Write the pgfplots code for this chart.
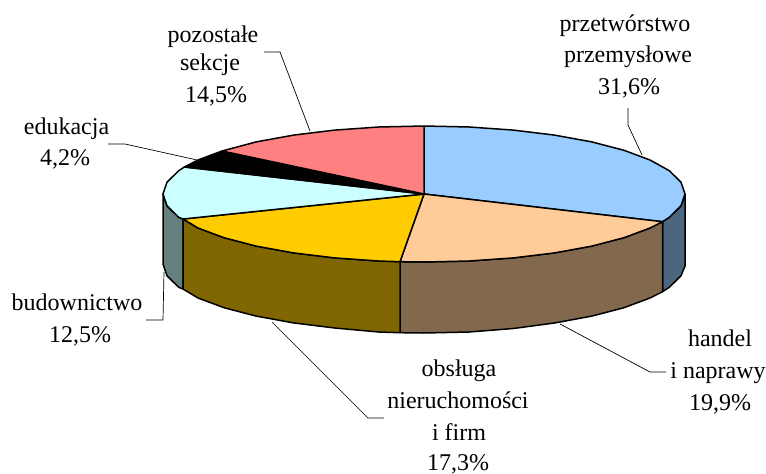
\documentclass[border=0pt]{standalone}
\usepackage{pgfplots}
\pgfplotsset{compat=1.18}
\usepackage{fontspec}
\setmainfont{Liberation Serif}
\definecolor{cblue}{HTML}{99CCFF}
\definecolor{cpeach}{HTML}{FFCC99}
\definecolor{cgold}{HTML}{FFCC00}
\definecolor{ccyan}{HTML}{CCFFFF}
\definecolor{cpink}{HTML}{FF8080}
\definecolor{sblue}{HTML}{4D6680}
\definecolor{speach}{HTML}{82684D}
\definecolor{sgold}{HTML}{806600}
\definecolor{scyan}{HTML}{668080}
\tikzset{
  rim/.style={draw=black, line width=1.5pt, line join=round},
  leader/.style={draw=black, line width=0.7pt, line join=miter},
  lab/.style={anchor=base, font=\fontsize{24}{24}\selectfont, inner sep=0pt, text=black},
}
\begin{document}
\begin{tikzpicture}
\clip (0,0) rectangle (766pt,474pt);
\begin{axis}[
  at={(0,0)}, anchor=south west,
  scale only axis, width=766pt, height=474pt,
  xmin=0, xmax=766, ymin=0, ymax=474, y dir=reverse,
  hide axis, clip=false,
]
% leader lines
\addplot[leader] coordinates {(264,52) (280,52) (310,131)};
\addplot[leader] coordinates {(108,144) (125,144) (197,160)};
\addplot[leader] coordinates {(628,108) (628,125) (642,155)};
\addplot[leader] coordinates {(146,320) (163,320) (164,272)};
\addplot[leader] coordinates {(272,322) (368,418) (384,418)};
\addplot[leader] coordinates {(560,324) (650,372) (666,372)};
% sides
\addplot[rim, fill=sblue] coordinates {(685,194) (681,205.8) (669.3,217.3) (662.5,221.7) (662.5,291.7) (669.3,287.3) (681,275.8) (685,266)} --cycle;
\addplot[rim, fill=scyan] coordinates {(183,219) (178.7,217.3) (167,205.8) (163,194) (163,264) (167,275.8) (178.7,287.3) (183,289)} --cycle;
\addplot[rim, fill=speach] coordinates {(662.5,221.7) (650,228) (624,237.7) (591.8,246.1) (554.5,252.9) (513.3,257.9) (469.3,261) (424,262) (400,261.7)
  (400,332.7) (424,333) (469.3,332) (513.3,328.5) (554.5,323) (591.8,316.1) (624,307.7) (650,298) (662.5,291.7)} --cycle;
\addplot[rim, fill=sgold] coordinates {(400,261.7) (378.7,261) (334.7,257.9) (293.5,252.9) (256.2,246.1) (224,237.7) (198,228) (183,219)
  (183,289) (198,298) (224,307.7) (256.2,316.1) (293.5,322.9) (334.7,328) (378.7,332) (400,332.7)} --cycle;
% top face
\addplot[rim, fill=cblue] coordinates {(424,194) (424,126) (469.3,127) (513.3,130.1) (554.5,135.1) (591.8,141.9) (624,150.3) (650,160) (669.3,170.7) (681,182.2) (685,194) (681,205.8) (669.3,217.3) (662.5,221.7)} --cycle;
\addplot[rim, fill=cpeach] coordinates {(424,194) (662.5,221.7) (650,228) (624,237.7) (591.8,246.1) (554.5,252.9) (513.3,257.9) (469.3,261) (424,262) (400,261.7)} --cycle;
\addplot[rim, fill=cgold] coordinates {(424,194) (400,261.7) (378.7,261) (334.7,257.9) (293.5,252.9) (256.2,246.1) (224,237.7) (198,228) (183,219)} --cycle;
\addplot[rim, fill=ccyan] coordinates {(424,194) (183,219) (178.7,217.3) (167,205.8) (163,194) (167,182.2) (178.7,170.7) (184.4,167)} --cycle;
\addplot[rim, fill=black] coordinates {(424,194) (184.4,167) (198,160) (222,151)} --cycle;
\addplot[rim, fill=cpink] coordinates {(424,194) (222,151) (256.2,141.9) (293.5,135.1) (334.7,130.1) (378.7,127) (424,126)} --cycle;
% labels
\node[lab] at (axis cs:625,31) {przetwórstwo};
\node[lab] at (axis cs:628,62) {przemysłowe};
\node[lab] at (axis cs:629,94) {31,6\%};
\node[lab] at (axis cs:213,42) {pozostałe};
\node[lab] at (axis cs:210,70) {sekcje};
\node[lab] at (axis cs:216,102) {14,5\%};
\node[lab] at (axis cs:66.5,134) {edukacja};
\node[lab] at (axis cs:65,165) {4,2\%};
\node[lab] at (axis cs:77,310) {budownictwo};
\node[lab] at (axis cs:80,342) {12,5\%};
\node[lab] at (axis cs:459,376) {obsługa};
\node[lab] at (axis cs:458,408) {nieruchomości};
\node[lab] at (axis cs:459,440) {i firm};
\node[lab] at (axis cs:458,470) {17,3\%};
\node[lab] at (axis cs:720,346) {handel};
\node[lab] at (axis cs:718,378) {i naprawy};
\node[lab] at (axis cs:720,410) {19,9\%};
\end{axis}
\end{tikzpicture}
\end{document}
